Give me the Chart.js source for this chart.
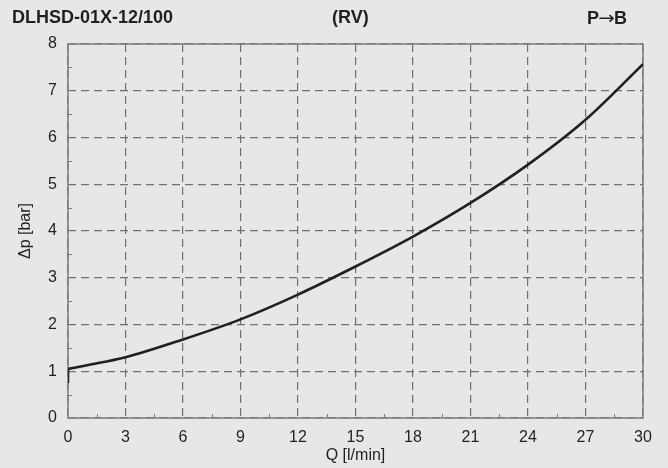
<!DOCTYPE html>
<html>
<head>
<meta charset="utf-8">
<script src="https://cdn.jsdelivr.net/npm/chart.js@4/dist/chart.umd.min.js"></script>
<style>
  html, body { margin: 0; padding: 0; background: #e6e7e8; }
  #wrap { position: relative; width: 668px; height: 468px; }
  .hd { position: absolute; top: 7px; font: bold 18px "Liberation Sans", Arial, sans-serif; color: #231f20; white-space: nowrap; }
  .arrow { font: normal 18px "DejaVu Sans", sans-serif; display: inline-block; transform: scaleX(1.1); }
</style>
</head>
<body>
<div id="wrap">
  <canvas id="myChart" width="668" height="468"></canvas>
  <div class="hd" id="hdLeft" style="left:12px">DLHSD-01X-12/100</div>
  <div class="hd" id="hdMid" style="left:332px">(RV)</div>
  <div class="hd" id="hdRight" style="left:587px">P<span class="arrow">→</span>B</div>
</div>
<script>
// Data

const flowQ = [0, 1, 3, 6, 9, 12, 15, 18, 21, 24, 27, 30];
const pressureDp = [1.05, 1.13, 1.3, 1.68, 2.11, 2.64, 3.24, 3.88, 4.6, 5.42, 6.38, 7.57];
// vertical start at Q = 0
const startQ = [0, 0];
const startDp = [0.75, 1.05];

const xTicks = [0, 3, 6, 9, 12, 15, 18, 21, 24, 27, 30];
const yTicks = [0, 1, 2, 3, 4, 5, 6, 7, 8];
const xMinorTicks = [1.5, 4.5, 7.5, 10.5, 13.5, 16.5, 19.5, 22.5, 25.5, 28.5];
const yMinorTicks = [0.5, 1.5, 2.5, 3.5, 4.5, 5.5, 6.5, 7.5];

const textColor = "#231f20";
const fontFamily = "'Liberation Sans', Arial, sans-serif";

// Frame and minor ticks

const framePlugin = {
  id: "frame",
  beforeDatasetsDraw(chart) {
    const { ctx, chartArea: a, scales } = chart;
    ctx.save();
    ctx.strokeStyle = "#7d7d7d";
    ctx.lineWidth = 1.5;
    ctx.setLineDash([]);
    ctx.strokeRect(a.left, a.top, a.right - a.left, a.bottom - a.top);
    ctx.lineWidth = 1;
    ctx.beginPath();
    xMinorTicks.forEach(v => {
      const px = Math.round(scales.x.getPixelForValue(v)) + 0.5;
      ctx.moveTo(px, a.bottom);
      ctx.lineTo(px, a.bottom - 4);
    });
    yMinorTicks.forEach(v => {
      const py = Math.round(scales.y.getPixelForValue(v)) + 0.5;
      ctx.moveTo(a.left, py);
      ctx.lineTo(a.left + 4, py);
    });
    ctx.stroke();
    ctx.restore();
  },
};

// Chart declaration

const ctx = document.getElementById("myChart").getContext("2d");
const chart = new Chart(ctx, {
  type: "line",
  data: {
    datasets: [
      {
        data: flowQ.map((q, i) => ({ x: q, y: pressureDp[i] })),
        borderColor: textColor,
        borderWidth: 2.6,
        pointRadius: 0,
        cubicInterpolationMode: "monotone",
        fill: false,
      },
      {
        data: startQ.map((q, i) => ({ x: q, y: startDp[i] })),
        borderColor: textColor,
        borderWidth: 2.6,
        pointRadius: 0,
        tension: 0,
        fill: false,
      },
    ],
  },
  options: {
    responsive: false,
    animation: false,
    events: [],
    layout: { padding: { top: 44, right: 25, bottom: 0, left: 0 } },
    plugins: { legend: { display: false }, tooltip: { enabled: false } },
    scales: {
      x: {
        type: "linear",
        min: 0,
        max: 30,
        afterFit: s => { s.height = 50; },
        afterBuildTicks: s => { s.ticks = xTicks.map(v => ({ value: v })); },
        grid: { color: "#707070", lineWidth: 1.2, drawTicks: false },
        border: { display: false, dash: [8, 5] },
        ticks: { color: textColor, font: { family: fontFamily, size: 16 }, padding: 10, maxRotation: 0 },
        title: { display: true, text: "Q [l/min]", color: textColor, font: { family: fontFamily, size: 16 }, padding: { top: 0, bottom: 3 } },
      },
      y: {
        type: "linear",
        min: 0,
        max: 8,
        afterFit: s => { s.width = 68; },
        afterBuildTicks: s => { s.ticks = yTicks.map(v => ({ value: v })); },
        grid: { color: "#707070", lineWidth: 1.2, drawTicks: false },
        border: { display: false, dash: [8, 5] },
        ticks: { color: textColor, font: { family: fontFamily, size: 16 }, padding: 11 },
        title: { display: true, text: "Δp [bar]", color: textColor, font: { family: fontFamily, size: 16 }, padding: { top: 16, bottom: 0 } },
      },
    },
  },
  plugins: [framePlugin],
});
</script>
</body>
</html>
